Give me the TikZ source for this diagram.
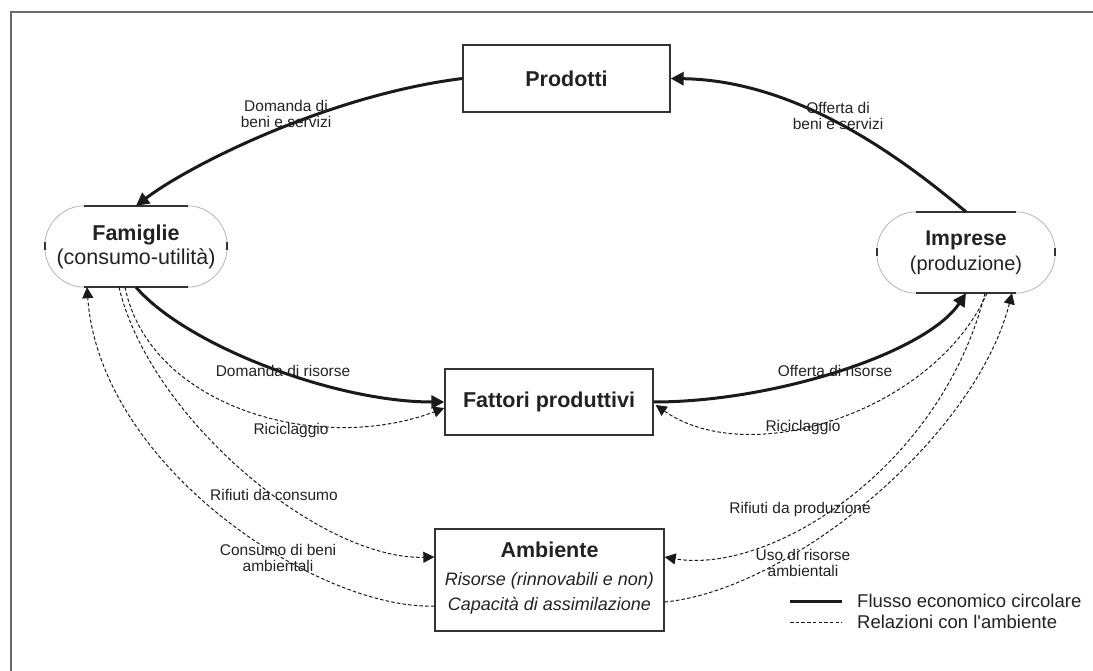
\documentclass[tikz,border=0pt]{standalone}
\usepackage{fontspec}
\setmainfont{Liberation Sans}
\usetikzlibrary{arrows.meta,calc}

\definecolor{ink}{HTML}{1A1A1A}
\definecolor{boxline}{HTML}{333333}
\definecolor{capline}{HTML}{B4B4B4}
\definecolor{frameline}{HTML}{6A6A6A}
\definecolor{txt}{HTML}{222222}

\tikzset{
  every node/.style={text=txt, inner sep=0pt},
  sectorbox/.style={draw=boxline, line width=1.3pt},
  agent/.style={align=center},
  capedge/.style={draw=capline, line width=0.8pt},
  capflat/.style={draw=boxline, line width=1.5pt},
  titlefont/.style={font=\fontsize{21.5}{24}\selectfont\bfseries},
  flow/.style={draw=ink, line width=3pt, -{Triangle[length=13pt,width=13pt]}},
  rel/.style={draw=ink, line width=1pt, dash pattern=on 3.5pt off 2.2pt,
              -{Triangle[length=11pt,width=11pt]}},
  lbl/.style={font=\fontsize{15.5}{16.5}\selectfont, align=center},
  legendtext/.style={font=\fontsize{18.5}{20}\selectfont, anchor=west},
}

\begin{document}
\begin{tikzpicture}[x=1pt, y=-1pt]
\useasboundingbox (0,0) rectangle (1093,671);

% open frame (only top and left edges fall inside the page)
\coordinate (frA) at (11,671);
\coordinate (frB) at (11,12);
\coordinate (frC) at (1093,12);
\draw[draw=frameline, line width=1.5pt] (frA) -- (frB) -- (frC);

% rectangular markets
\node[sectorbox, titlefont, minimum width=207pt, minimum height=67pt] (prod) at (566.5,78.5) {Prodotti};
\node[sectorbox, titlefont, minimum width=208pt, minimum height=66pt] (fatt) at (549,402) {Fattori produttivi};

% environment box with its three lines of text
\node[sectorbox, minimum width=229pt, minimum height=102pt] (amb) at (549.5,580) {};
\node[titlefont] (ambT) at (549.5,550) {Ambiente};
\node[font=\fontsize{18}{20}\selectfont\itshape] (ambR) at (549.5,581) {Risorse (rinnovabili e non)};
\node[font=\fontsize{18}{20}\selectfont\itshape] (ambC) at (549.5,606) {Capacità di assimilazione};

% households and firms: stadium outlines
\node[agent, minimum width=182pt, minimum height=81pt, font=\fontsize{21.5}{24}\selectfont] (fam) at (136,246.5)
  {{\bfseries Famiglie}\\(consumo-utilità)};
\node[agent, minimum width=178pt, minimum height=81pt, font=\fontsize{20}{25}\selectfont] (imp) at (966,252.5)
  {{\fontsize{21.2}{25}\selectfont\bfseries Imprese}\\(produzione)};

\foreach \n/\h in {fam/52,imp/50}{
  \draw[capedge, rounded corners=40pt] (\n.north west) rectangle (\n.south east);
  \draw[capflat] ($(\n.north)+(-\h,0)$) -- ($(\n.north)+(\h,0)$);
  \draw[capflat] ($(\n.south)+(-\h,0)$) -- ($(\n.south)+(\h,0)$);
  \draw[capflat] ($(\n.west)+(0,-4)$) -- ($(\n.west)+(0,4)$);
  \draw[capflat] ($(\n.east)+(0,-4)$) -- ($(\n.east)+(0,4)$);
}

% circular economic flow
\draw[flow] (prod.west) .. controls +(-133,16.5) and +(54,-41) .. (fam.north);
\draw[flow] (imp.north) .. controls +(-60,-50) and +(130,2) .. (prod.east);
\draw[flow] (fam.south) .. controls +(50,58) and +(-110,0) .. (fatt.west);
\draw[flow] (fatt.east) .. controls +(120,0) and +(-40,60) .. (imp.south);

% relations with the environment, households side
\draw[rel] ($(fam.south)+(-11,0)$) .. controls +(25,121) and +(-124,47) .. ($(fatt.west)+(0,6)$);
\draw[rel] ($(fam.south)+(-17,0)$) .. controls +(31,131) and +(-114,3) .. ($(amb.west)+(0,-23)$);
\draw[rel] ($(amb.west)+(0,26)$) .. controls +(-115,4) and +(13,181) .. ($(fam.south)+(-49,0)$);

% relations with the environment, firms side
\draw[rel] ($(imp.south)+(21,0)$) .. controls +(-52,117) and +(95,66) .. ($(fatt.east)+(2,3)$);
\draw[rel] ($(imp.south)+(19,0)$) .. controls +(-45,177) and +(104,18) .. ($(amb.east)+(0,-23)$);
\draw[rel] ($(amb.east)+(0,22)$) .. controls +(125,-12) and +(-37,145) .. ($(imp.south)+(46,0)$);

% connector labels
\node[lbl] (lDomBS) at (286,114) {Domanda di\\beni e servizi};
\node[lbl] (lOffBS) at (838,116) {Offerta di\\beni e servizi};
\node[lbl] (lDomR) at (283,371) {Domanda di risorse};
\node[lbl] (lOffR) at (835,371) {Offerta di risorse};
\node[lbl] (lRicL) at (291,430) {Riciclaggio};
\node[lbl] (lRicR) at (803,427) {Riciclaggio};
\node[lbl] (lRifC) at (274,495) {Rifiuti da consumo};
\node[lbl] (lConsB) at (278,558) {Consumo di beni\\ambientali};
\node[lbl] (lRifP) at (800,509) {Rifiuti da produzione};
\node[lbl] (lUso) at (803,563) {Uso di risorse\\ambientali};

% legend
\coordinate (legS1) at (790,601);
\coordinate (legS2) at (842,601);
\coordinate (legD1) at (790,622);
\coordinate (legD2) at (842,622);
\draw[draw=ink, line width=3pt] (legS1) -- (legS2);
\draw[draw=ink, line width=1pt, dash pattern=on 3.5pt off 2.2pt] (legD1) -- (legD2);
\node[legendtext] (legS) at (857,601) {Flusso economico circolare};
\node[legendtext] (legD) at (857,622) {Relazioni con l\textquotesingle ambiente};
\end{tikzpicture}
\end{document}
